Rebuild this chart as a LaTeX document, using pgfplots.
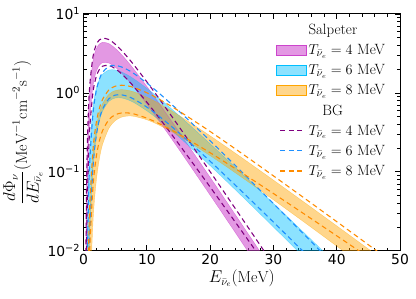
\documentclass[border=0pt]{standalone}
\usepackage{fontspec}
\usepackage{pgfplots}
\pgfplotsset{compat=1.18}
\usepgfplotslibrary{fillbetween}
\usepackage{pgfplotstable}
\newfontfamily\dejavu{DejaVu Sans}
\definecolor{pfill}{RGB}{204,68,204}
\definecolor{pdash}{RGB}{128,0,128}
\definecolor{bfill}{RGB}{0,191,255}
\definecolor{bdash}{RGB}{30,144,255}
\definecolor{ofill}{RGB}{255,165,0}
\definecolor{odash}{RGB}{255,140,0}

\pgfplotstableread{
E FU FL DU DL
0.3 0.001731 0.000297 0.002144 0.000152
0.5 0.0746 0.02153 0.0882 0.01394
0.75 0.469 0.1756 0.5424 0.1282
1 1.137 0.4843 1.300 0.3764
1.5 2.568 1.245 2.907 1.034
2 3.598 1.859 4.058 1.604
2.5 4.167 2.236 4.691 1.980
3 4.385 2.414 4.933 2.180
4 4.209 2.389 4.737 2.227
5 3.671 2.122 4.140 2.029
6 3.054 1.785 3.451 1.746
7 2.472 1.455 2.801 1.454
8 1.967 1.164 2.234 1.187
10 1.208 0.7194 1.380 0.7616
12 0.7242 0.4324 0.8325 0.4752
15 0.3282 0.1963 0.3811 0.2276
20 0.0850 0.05072 0.1004 0.06423
25 0.02162 0.01283 0.02595 0.01771
30 0.005444 0.003210 0.006645 0.004829
}\tabP

\pgfplotstableread{
E FU FL DU DL
0.5 0.006186 0.0000702 0.001961 0.0000556
0.75 0.06727 0.002997 0.03475 0.002667
1 0.2170 0.01913 0.1429 0.01804
1.5 0.6686 0.1165 0.5601 0.1164
2 1.122 0.2742 1.057 0.2821
2.5 1.477 0.4413 1.491 0.4624
3 1.721 0.5873 1.815 0.6228
4 1.949 0.7822 2.163 0.8425
5 1.952 0.8617 2.226 0.9374
6 1.841 0.8632 2.130 0.9452
7 1.677 0.8185 1.954 0.9016
8 1.495 0.7508 1.747 0.8302
10 1.143 0.5939 1.332 0.6609
12 0.8470 0.4479 0.9797 0.5013
15 0.5244 0.2797 0.5956 0.3152
20 0.2265 0.1199 0.2474 0.1362
25 0.09543 0.04941 0.09979 0.05661
30 0.03974 0.02002 0.03968 0.02307
35 0.01643 0.008012 0.01564 0.009300
40 0.006767 0.003186 0.006138 0.003722
}\tabB

\pgfplotstableread{
E FU FL DU DL
0.5 0.0002686 0.0000016 0.000302 0.000056
0.75 0.007034 0.000203 0.007945 0.001993
1 0.03538 0.002248 0.04003 0.01169
1.5 0.1719 0.02401 0.1949 0.06645
2 0.3663 0.07568 0.4155 0.1534
2.5 0.5607 0.1466 0.6366 0.2470
3 0.7280 0.2225 0.8273 0.3322
4 0.9585 0.3554 1.089 0.4585
5 1.070 0.4449 1.216 0.5288
6 1.100 0.4931 1.250 0.5569
7 1.078 0.5097 1.226 0.5573
8 1.027 0.5044 1.167 0.5402
10 0.8826 0.4566 1.003 0.4788
12 0.7280 0.3890 0.8270 0.4056
15 0.5234 0.2877 0.5943 0.3023
20 0.2858 0.1606 0.3243 0.1746
25 0.1510 0.08531 0.1713 0.09721
30 0.07850 0.04422 0.08893 0.05317
35 0.04042 0.02263 0.04574 0.02877
40 0.02069 0.01147 0.02340 0.01548
45 0.01054 0.005779 0.01192 0.008288
50 0.005362 0.002902 0.006056 0.004426
}\tabO

\begin{document}
\begin{tikzpicture}
\begin{axis}[
  name=ax,
  width=318bp, height=238bp, scale only axis,
  ymode=log, xmin=0, xmax=50, ymin=0.01, ymax=10,
  xtick={0,10,20,30,40,50}, xticklabels={0,10,20,30,40,50},
  minor x tick num=4,
  ytick={0.01,0.1,1,10},
  yticklabels={10\textsuperscript{−2},10\textsuperscript{−1},10\textsuperscript{0},10\textsuperscript{1}},
  minor ytick={0.02,0.03,0.04,0.05,0.06,0.07,0.08,0.09,0.2,0.3,0.4,0.5,0.6,0.7,0.8,0.9,2,3,4,5,6,7,8,9},
  tick align=inside,
  tick label style={font=\dejavu\fontsize{14}{16}\selectfont},
  label style={font=\fontsize{16}{19}\selectfont},
  major tick length=5.5bp, minor tick length=3bp,
  every tick/.style={black, line width=0.8pt},
  axis line style={line width=1pt},
  xlabel={$E_{\bar{\nu}_e}(\mathrm{MeV})$},
  ylabel={$\displaystyle\frac{d\Phi_\nu}{dE_{\bar{\nu}_e}}(\mathrm{MeV}^{-1}\mathrm{cm}^{-2}\mathrm{s}^{-1})$},
  xlabel style={yshift=2bp},
  ylabel style={yshift=-2bp},
  legend cell align=left,
  legend style={at={(1,1)}, anchor=north east, xshift=-10bp, yshift=-6bp,
    draw=none, fill=none, font=\fontsize{15}{18}\selectfont, row sep=4.5bp},
]
% Salpeter bands
\addplot[name path=pFU, pfill, draw opacity=0.6, line width=0.4pt, smooth, forget plot] table[x=E,y=FU]{\tabP};
\addplot[name path=pFL, pfill, draw opacity=0.6, line width=0.4pt, smooth, forget plot] table[x=E,y=FL]{\tabP};
\addplot[pfill, fill opacity=0.55, forget plot] fill between[of=pFU and pFL];
\addplot[name path=bFU, bfill, draw opacity=0.45, line width=0.4pt, smooth, forget plot] table[x=E,y=FU]{\tabB};
\addplot[name path=bFL, bfill, draw opacity=0.45, line width=0.4pt, smooth, forget plot] table[x=E,y=FL]{\tabB};
\addplot[bfill, fill opacity=0.45, forget plot] fill between[of=bFU and bFL];
\addplot[name path=oFU, ofill, draw opacity=0.45, line width=0.4pt, smooth, forget plot] table[x=E,y=FU]{\tabO};
\addplot[name path=oFL, ofill, draw opacity=0.45, line width=0.4pt, smooth, forget plot] table[x=E,y=FL]{\tabO};
\addplot[ofill, fill opacity=0.45, forget plot] fill between[of=oFU and oFL];
% BG dashed
\addplot[pdash, dash pattern=on 5bp off 3.5bp, line width=1.1pt, smooth, forget plot] table[x=E,y=DU]{\tabP};
\addplot[pdash, dash pattern=on 5bp off 3.5bp, line width=1.1pt, smooth, forget plot] table[x=E,y=DL]{\tabP};
\addplot[bdash, dash pattern=on 5bp off 3.5bp, line width=1.1pt, smooth, forget plot] table[x=E,y=DU]{\tabB};
\addplot[bdash, dash pattern=on 5bp off 3.5bp, line width=1.1pt, smooth, forget plot] table[x=E,y=DL]{\tabB};
\addplot[odash, dash pattern=on 5bp off 3.5bp, line width=1.1pt, smooth, forget plot] table[x=E,y=DU]{\tabO};
\addplot[odash, dash pattern=on 5bp off 3.5bp, line width=1.1pt, smooth, forget plot] table[x=E,y=DL]{\tabO};
% legend
\addlegendimage{empty legend}
\addlegendentry{Salpeter}
\addlegendimage{legend image code/.code={\fill[pfill, fill opacity=0.55] (0bp,-5bp) rectangle (30bp,5bp);}}
\addlegendentry{$T_{\bar{\nu}_e}=4$ MeV}
\addlegendimage{legend image code/.code={\fill[bfill, fill opacity=0.45] (0bp,-5bp) rectangle (30bp,5bp);}}
\addlegendentry{$T_{\bar{\nu}_e}=6$ MeV}
\addlegendimage{legend image code/.code={\fill[ofill, fill opacity=0.45] (0bp,-5bp) rectangle (30bp,5bp);}}
\addlegendentry{$T_{\bar{\nu}_e}=8$ MeV}
\addlegendimage{empty legend}
\addlegendentry{\hspace*{14bp}BG}
\addlegendimage{legend image code/.code={\draw[pdash, dash pattern=on 5bp off 3.5bp, line width=1.1pt] (4bp,0bp) -- (26bp,0bp);}}
\addlegendentry{$T_{\bar{\nu}_e}=4$ MeV}
\addlegendimage{legend image code/.code={\draw[bdash, dash pattern=on 5bp off 3.5bp, line width=1.1pt] (4bp,0bp) -- (26bp,0bp);}}
\addlegendentry{$T_{\bar{\nu}_e}=6$ MeV}
\addlegendimage{legend image code/.code={\draw[odash, dash pattern=on 5bp off 3.5bp, line width=1.1pt] (4bp,0bp) -- (26bp,0bp);}}
\addlegendentry{$T_{\bar{\nu}_e}=8$ MeV}
\end{axis}
\path (ax.south west) ++(-82bp,-48bp) rectangle ++(416bp,300bp);
\end{tikzpicture}
\end{document}
